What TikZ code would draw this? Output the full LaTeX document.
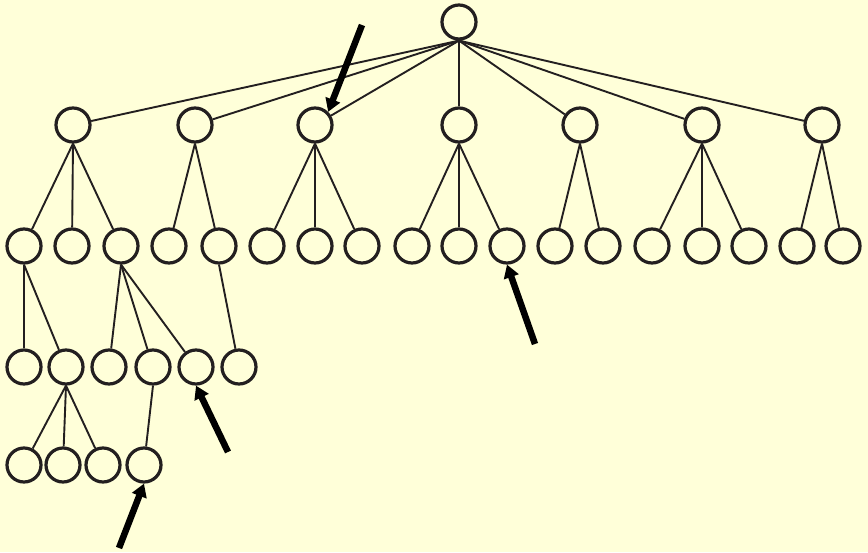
\documentclass[tikz,border=0pt]{standalone}
\usetikzlibrary{arrows.meta}
\definecolor{paper}{RGB}{255,255,217}
\definecolor{ink}{RGB}{35,31,32}
\tikzset{
  vert/.style={circle, draw=ink, line width=3.2pt, minimum size=34pt, inner sep=0pt},
  edge/.style={draw=ink, line width=1.9pt},
  pointer/.style={draw=black, line width=6.5pt, -{Triangle[length=13pt, width=15pt]}, shorten >=0pt}
}
\begin{document}
\begin{tikzpicture}[x=1pt, y=-1pt]
  \fill[paper] (0,0) rectangle (868,552);
  \useasboundingbox (0,0) rectangle (868,552);

  % root
  \node[vert] (r) at (459,22) {};

  % first level
  \foreach \n/\x in {a/73, b/195, c/315, d/459, e/580, f/702, g/822}
    \node[vert] (\n) at (\x,125) {};

  % second level
  \foreach \n/\x in {a1/24, a2/72, a3/121, b1/169, b2/219,
                     c1/267, c2/315, c3/362, d1/412, d2/459, d3/507,
                     e1/555, e2/603, f1/652, f2/702, f3/749, g1/797, g2/843}
    \node[vert] (\n) at (\x,246) {};

  % third level
  \foreach \n/\x in {a11/24, a12/66, a31/109, a32/153, a33/196, b21/239}
    \node[vert] (\n) at (\x,367) {};

  % fourth level
  \foreach \n/\x in {a121/24, a122/63, a123/103, a321/144}
    \node[vert] (\n) at (\x,465) {};

  % connectors, drawn from the bottom of each parent
  \foreach \c in {a,b,c,d,e,f,g}
    \draw[edge] (r.south) -- (\c);
  \foreach \p/\c in {a/a1, a/a2, a/a3, b/b1, b/b2, c/c1, c/c2, c/c3,
                     d/d1, d/d2, d/d3, e/e1, e/e2, f/f1, f/f2, f/f3, g/g1, g/g2,
                     a1/a11, a1/a12, a3/a31, a3/a32, a3/a33, b2/b21,
                     a12/a121, a12/a122, a12/a123, a32/a321}
    \draw[edge] (\p.south) -- (\c);

  % pointers
  \coordinate (t1) at (362,25);
  \coordinate (t2) at (535,344);
  \coordinate (t3) at (228,452);
  \coordinate (t4) at (119,548);
  \draw[pointer] (t1) -- (c.north east);
  \draw[pointer] (t2) -- (d3.south);
  \draw[pointer] (t3) -- (a33.south);
  \draw[pointer] (t4) -- (a321.south);
\end{tikzpicture}
\end{document}
